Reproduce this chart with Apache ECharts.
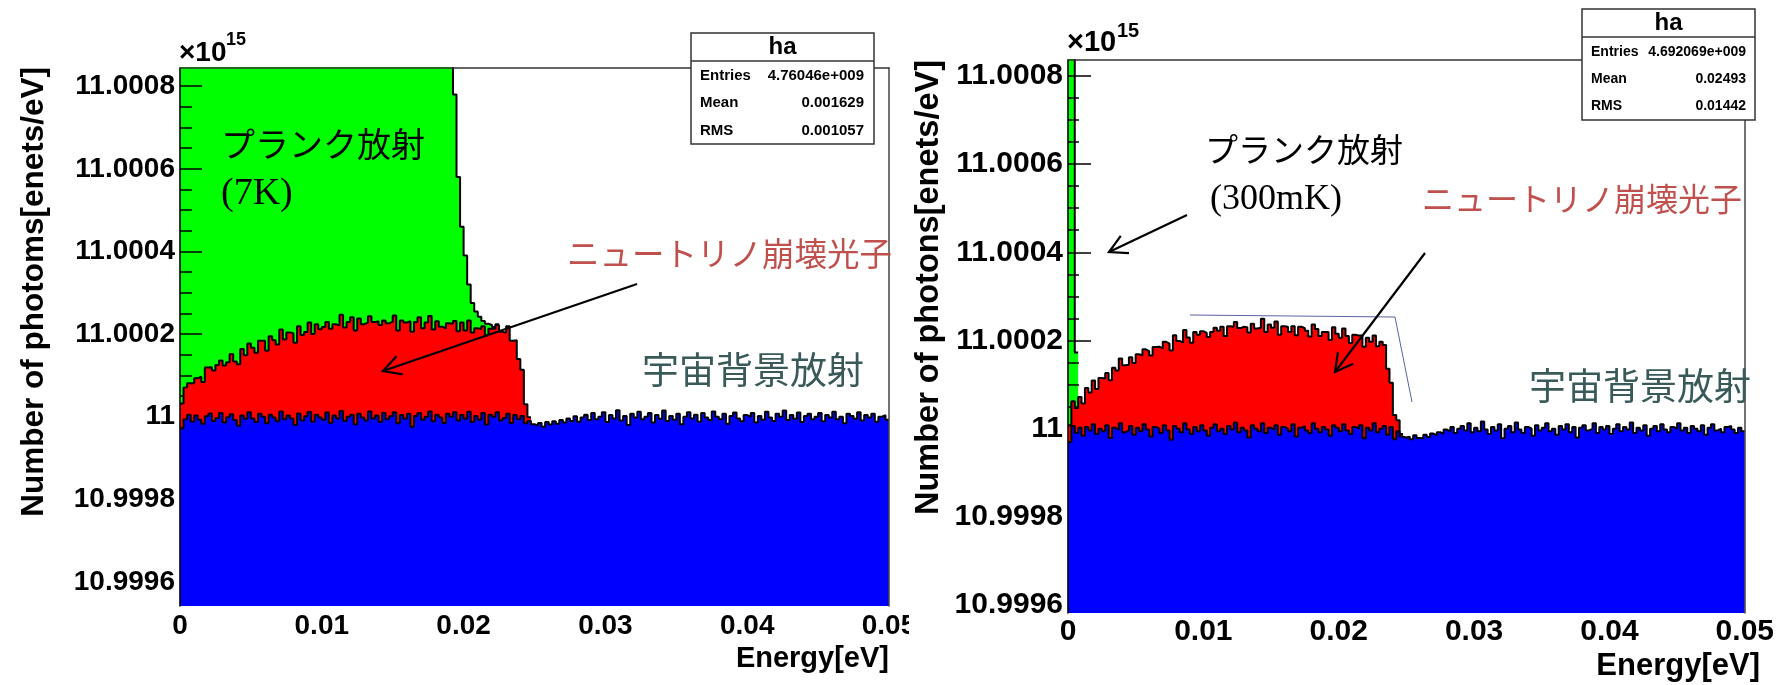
<!DOCTYPE html>
<html><head><meta charset="utf-8">
<script src="https://cdn.jsdelivr.net/npm/echarts@6/dist/echarts.min.js"></script>
<style>html,body{margin:0;padding:0;background:#fff}#c{width:1777px;height:685px}</style>
</head><body><div id="c"></div>
<script>
// Histogram binning (eV) and axis ticks. Y values are photons/eV in units of 1e9 (axis shows x10^15).
const binWidth = 0.00025;
const yMajorTicks = [10999600, 10999800, 11000000, 11000200, 11000400, 11000600, 11000800];

// ---- Left panel (Planck 7K) ----
const leftBlue = [
10999972,10999994,11000005,10999988,11000003,10999993,10999983,11000001,11000008,10999990,10999997,11000009,10999986,10999999,11000006,10999992,10999978,11000003,10999995,11000011,
10999996,10999987,11000007,11000000,10999984,11000005,10999998,10999989,11000013,10999994,11000003,10999996,10999980,11000008,10999991,11000001,11000012,10999988,11000005,10999998,
10999993,11000010,10999985,11000003,10999996,11000014,10999990,11000000,11000005,10999982,11000007,10999998,10999991,11000013,10999996,11000003,10999987,11000009,10999994,11000001,
11000011,10999984,11000004,10999995,11000007,10999976,11000002,11000009,10999993,11000000,11000013,10999989,11000005,10999998,10999985,11000007,11000000,11000011,10999991,11000004,
10999995,11000012,10999987,11000002,10999993,11000009,10999981,11000005,11000000,11000011,10999991,10999997,11000007,10999985,11000004,10999994,11000002,10999984,10999990,10999982,
10999979,10999985,10999976,10999987,10999981,10999989,10999983,10999992,10999986,10999996,10999990,11000001,10999988,10999998,11000005,10999992,11000009,10999994,11000000,11000011,
10999987,11000004,10999996,11000016,10999991,11000002,10999980,11000007,10999998,11000012,10999994,11000000,11000009,10999986,11000004,10999995,11000015,10999990,11000002,10999993,
11000007,10999982,11000000,11000011,10999996,11000005,10999988,11000009,10999998,10999992,11000013,11000000,10999994,11000007,10999983,11000002,11000010,10999996,10999989,11000004,
11000000,11000009,10999986,11000002,10999993,11000012,10999998,10999990,11000007,11000000,11000015,10999992,11000004,10999995,11000010,10999987,11000002,11000007,10999994,11000000,
11000009,10999989,11000004,10999998,11000012,10999994,11000000,10999984,11000007,11000002,10999995,11000011,10999991,11000004,10999998,11000007,10999988,11000000,11000004,10999993];
const leftRed = [
60,77,76,93,90,104,101,118,112,122,
128,127,138,133,146,142,149,161,154,166,
171,168,177,184,176,190,187,186,198,193,
201,206,199,211,207,204,216,212,219,214,
224,219,228,221,225,233,226,229,236,227,
231,226,237,230,233,228,235,224,232,229,
234,225,229,233,224,230,227,232,221,228,
231,222,226,220,229,219,225,221,216,224,
214,221,217,212,219,210,216,208,213,211,
215,206,212,199,181,146,112,46,9];
const leftGreen = [
52000,118000,171000,196000,208000,211000,205000,194000,181000,166000,
150000,134000,119000,104000,91000,79000,68000,59000,50000,43000,
37000,31500,27000,23000,19600,16700,14200,12100,10300,8800,
7500,6500,5600,4900,4300,3800,3400,3100,2850,2650,
2500,2380,2280,2200,2130,2070,2020,1980,1940,1900,
1870,1840,1810,1780,1760,1740,1720,1700,1680,1660,
1640,1620,1600,1580,1560,1540,1520,1500,1480,1460,
1440,1420,1400,1380,1360,1340,1320,
548,373,232,181,87,71,41,30,13,28,9,4,2];

// ---- Right panel (Planck 300mK) ----
const rightBlue = [
10999970,11000006,10999990,11000002,10999984,11000004,10999996,11000010,10999988,11000000,10999994,11000008,10999979,11000002,10999998,11000012,10999992,10999996,11000006,10999986,
11000002,10999994,11000010,10999998,10999982,11000004,11000000,10999990,11000008,10999996,10999975,11000006,11000000,10999992,11000012,10999998,10999988,11000004,10999994,11000008,
10999996,10999984,11000002,11000010,10999994,11000000,10999988,11000006,10999998,11000014,10999992,11000002,10999996,10999980,11000008,11000000,10999994,11000012,10999990,11000002,
10999998,11000008,10999986,11000004,11000000,10999994,11000010,10999982,11000002,11000006,10999996,10999990,11000012,11000000,10999992,11000004,10999998,10999984,11000008,11000002,
10999994,11000010,10999996,10999988,11000004,11000000,11000008,10999978,11000002,10999996,11000012,10999992,11000000,11000006,10999986,11000004,10999976,10999994,10999982,10999980,
10999982,10999976,10999985,10999979,10999978,10999986,10999981,10999989,10999985,10999992,10999988,10999998,10999994,11000004,10999990,11000000,11000006,10999996,11000012,10999992,
11000002,10999994,11000016,10999998,10999988,11000004,10999996,11000010,10999978,11000000,11000006,10999992,11000014,10999998,10999990,11000004,11000000,10999984,11000008,10999996,
11000002,11000012,10999994,11000000,10999986,11000006,10999998,11000010,10999992,11000004,10999980,11000002,11000008,10999996,11000000,11000012,10999990,11000004,10999998,11000006,
10999988,11000000,11000010,10999994,11000004,10999998,11000014,10999990,11000002,10999996,11000008,10999984,11000000,11000006,10999994,11000010,10999998,10999992,11000004,11000000,
11000012,10999996,11000002,10999990,11000006,11000000,10999994,11000008,10999986,11000002,11000010,10999996,11000000,10999992,11000004,11000006,10999998,10999990,11000002,10999994];
const rightRed = [
38,56,57,70,73,88,86,99,102,115,
120,118,131,136,134,147,152,149,156,163,
167,172,170,178,184,181,186,192,189,197,
202,206,199,203,212,209,207,215,219,213,
221,224,217,219,228,231,222,226,233,228,
236,229,234,238,230,227,235,237,229,234,
231,235,227,228,231,225,222,230,229,222,
226,219,224,226,218,215,221,217,222,213,
212,217,214,206,209,211,203,208,204,201,
199,195,197,184,150,100,55,25,6];
const rightGreen = [250000, 90000, 126];

const statsLeft = [['Entries','4.76046e+009'],['Mean','0.001629'],['RMS','0.001057']];
const statsRight = [['Entries','4.692069e+009'],['Mean','0.02493'],['RMS','0.01442']];

// ---------------------------------------------------------------
const FONT = '"Liberation Sans", Arial, sans-serif';
const JFONT = '"Liberation Serif", "Noto Sans CJK JP", serif';

function stackTotals(blue, red, green) {
  const blueT = blue.slice();
  const redT = red.map((r, i) => blue[i] + r);
  const greenT = green.map((g, i) => blue[i] + (red[i] || 0) + g);
  return { blueT, redT, greenT };
}
function stepPoints(tot) {
  const pts = tot.map((v, i) => [i * binWidth, v]);
  pts.push([tot.length * binWidth, tot[tot.length - 1]]);
  return pts;
}
function histSeries(name, tot, color, gi, z) {
  return {
    type: 'line', name, xAxisIndex: 2 * gi, yAxisIndex: 4 * gi,
    data: stepPoints(tot), step: 'end', symbol: 'none', showSymbol: false,
    z, clip: true, silent: true, animation: false,
    lineStyle: { color: '#000', width: 2 },
    areaStyle: { color, opacity: 1, origin: 'start' }
  };
}

const panels = [
  { grid: { left: 180, top: 68, width: 709, height: 538 }, min: 10999542, max: 11000844,
    tickFont: 28, tickLen: 22, minorLen: 12, xMargin: 6, blue: leftBlue, red: leftRed, green: leftGreen },
  { grid: { left: 1068, top: 60, width: 692, height: 553 }, min: 10999582, max: 11000836,
    tickFont: 30, tickLen: 23, minorLen: 11, xMargin: 4, blue: rightBlue, red: rightRed, green: rightGreen }
];

const yMinor = [];
for (let v = 10999550; v <= 11000800; v += 50) yMinor.push(v);

const grids = [], xAxes = [], yAxes = [], series = [];
panels.forEach((p, gi) => {
  grids.push(Object.assign({ show: false }, p.grid));
  xAxes.push({
    gridIndex: gi, type: 'value', min: 0, max: 0.05, interval: 0.01, position: 'bottom', z: 10,
    axisLine: { show: false, onZero: false }, axisTick: { show: false }, splitLine: { show: false },
    axisLabel: { fontSize: p.tickFont, fontFamily: FONT, fontWeight: 'bold', color: '#000', margin: p.xMargin,
      showMaxLabel: true, showMinLabel: true,
      formatter: v => (v === 0 ? '0' : String(parseFloat(v.toFixed(3)))) }
  });
  xAxes.push({
    gridIndex: gi, type: 'value', min: 0, max: 0.05, position: 'top', z: 10,
    axisLine: { show: true, onZero: false, lineStyle: { color: '#333', width: 1.5 } },
    axisTick: { show: false }, axisLabel: { show: false }, splitLine: { show: false }
  });
  const yBase = { gridIndex: gi, type: 'value', min: p.min, max: p.max, splitLine: { show: false } };
  yAxes.push(Object.assign({}, yBase, {
    position: 'left', z: 2,
    axisLine: { show: false, onZero: false },
    axisTick: { show: true, inside: true, length: p.tickLen, customValues: yMajorTicks, lineStyle: { color: '#000', width: 1.5 } },
    axisLabel: { customValues: yMajorTicks, fontSize: p.tickFont, fontFamily: FONT, fontWeight: 'bold', color: '#000', margin: 5,
      formatter: v => String(parseFloat((v / 1e6).toFixed(4))) }
  }));
  yAxes.push(Object.assign({}, yBase, {
    position: 'left', z: 2,
    axisLine: { show: false, onZero: false },
    axisTick: { show: true, inside: true, length: p.minorLen, customValues: yMinor, lineStyle: { color: '#000', width: 1.5 } },
    axisLabel: { show: false }
  }));
  yAxes.push(Object.assign({}, yBase, {
    position: 'left', z: 10,
    axisLine: { show: true, onZero: false, lineStyle: { color: '#000', width: 1.6 } },
    axisTick: { show: false }, axisLabel: { show: false }
  }));
  yAxes.push(Object.assign({}, yBase, {
    position: 'right', z: 10,
    axisLine: { show: true, onZero: false, lineStyle: { color: '#444', width: 1.5 } },
    axisTick: { show: false }, axisLabel: { show: false }
  }));
  const t = stackTotals(p.blue, p.red, p.green);
  series.push(histSeries('Planck', t.greenT, '#00ff00', gi, 1));
  series.push(histSeries('Neutrino decay', t.redT, '#ff0000', gi, 3));
  series.push(histSeries('CMB', t.blueT, '#0000ff', gi, 4));
});

// ---------------- annotations ----------------
const G = [];
function txt(text, x, y, size, opts) {
  opts = opts || {};
  G.push({ type: 'text', x, y, rotation: opts.rot || 0, z: 100, silent: true,
    style: { text, fontSize: size, fontFamily: opts.family || FONT, fontWeight: opts.weight || 'bold',
      fill: opts.color || '#000', align: opts.align || 'left', verticalAlign: opts.va || 'middle' } });
}
function arrow(x1, y1, x2, y2, len) {
  G.push({ type: 'line', z: 100, silent: true, shape: { x1, y1, x2, y2 }, style: { stroke: '#000', lineWidth: 2.2 } });
  const a = Math.atan2(y1 - y2, x1 - x2), w = 0.5;
  G.push({ type: 'polyline', z: 100, silent: true,
    shape: { points: [[x2 + len * Math.cos(a + w), y2 + len * Math.sin(a + w)], [x2, y2], [x2 + len * Math.cos(a - w), y2 + len * Math.sin(a - w)]] },
    style: { stroke: '#000', lineWidth: 2.2, fill: null } });
}
function statsBox(x, y, w, h, sepY, titleSize, rowSize, rows, rowYs, lx, rx) {
  G.push({ type: 'rect', z: 90, silent: true, shape: { x, y, width: w, height: h }, style: { fill: '#fff', stroke: '#333', lineWidth: 1.5 } });
  G.push({ type: 'line', z: 91, silent: true, shape: { x1: x, y1: sepY, x2: x + w, y2: sepY }, style: { stroke: '#333', lineWidth: 1.5 } });
  txt('ha', x + w / 2, (y + sepY) / 2, titleSize, { align: 'center' });
  rows.forEach((r, i) => {
    txt(r[0], lx, rowYs[i], rowSize);
    txt(r[1], rx, rowYs[i], rowSize, { align: 'right' });
  });
}

// left panel texts
txt('Number of photoms[enets/eV]', 34, 67, 31.5, { rot: Math.PI / 2, align: 'right' });
txt('Energy[eV]', 889, 659, 29, { align: 'right' });
txt('\u00d710', 179, 53, 28);
txt('15', 226, 40, 18);
statsBox(691, 33, 183, 111, 61, 24, 15, statsLeft, [76, 103, 131], 700, 864);
txt('プランク放射', 221, 148, 34, { family: JFONT, weight: 'normal' });
txt('(7K)', 221, 194, 38, { family: JFONT, weight: 'normal' });
txt('ニュートリノ崩壊光子', 567, 257, 32.5, { family: JFONT, weight: 'normal', color: '#c0504d' });
txt('宇宙背景放射', 642, 374, 37, { family: JFONT, weight: 'normal', color: '#3a5a5a' });
arrow(637, 284, 383, 371, 20);
// the left picture is cropped just right of its last tick label
G.push({ type: 'rect', z: 120, silent: true, shape: { x: 909, y: 612, width: 8, height: 36 }, style: { fill: '#fff' } });

// right panel texts
txt('Number of photons[enets/eV]', 929, 60, 32.5, { rot: Math.PI / 2, align: 'right' });
txt('Energy[eV]', 1760, 666, 31, { align: 'right' });
txt('\u00d710', 1067, 43, 29);
txt('15', 1117, 31, 20);
statsBox(1582, 9, 173, 111, 37, 24, 14, statsRight, [52, 79, 106], 1591, 1746);
txt('プランク放射', 1205, 153, 33, { family: JFONT, weight: 'normal' });
txt('(300mK)', 1210, 200, 36, { family: JFONT, weight: 'normal' });
txt('ニュートリノ崩壊光子', 1422, 203, 32, { family: JFONT, weight: 'normal', color: '#c0504d' });
txt('宇宙背景放射', 1529, 390, 37, { family: JFONT, weight: 'normal', color: '#3a5a5a' });
arrow(1187, 215, 1109, 252, 20);
arrow(1425, 253, 1335, 372, 20);
G.push({ type: 'polyline', z: 95, silent: true, shape: { points: [[1190, 315], [1395, 317], [1412, 402]] },
  style: { stroke: '#5a64a0', lineWidth: 1, fill: null } });

const chart = echarts.init(document.getElementById('c'), null, { renderer: 'canvas' });
chart.setOption({
  animation: false,
  backgroundColor: '#fff',
  grid: grids, xAxis: xAxes, yAxis: yAxes, series,
  graphic: { elements: G }
});
</script>
</body></html>
